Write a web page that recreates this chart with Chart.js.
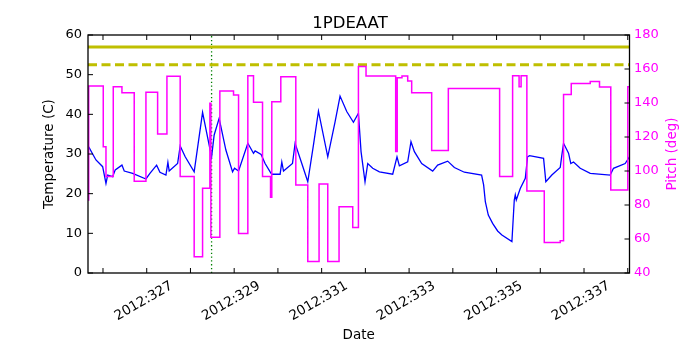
<!DOCTYPE html>
<html><head><meta charset="utf-8">
<script src="https://cdn.jsdelivr.net/npm/chart.js@4.4.0/dist/chart.umd.min.js"></script>
<style>html,body{margin:0;padding:0;background:#fff}#wrap{width:700px;height:350px}</style>
</head><body><div id="wrap"><canvas id="c" width="700" height="350"></canvas></div>
<script>
// ---- data (day of year 2012) ----
const tempDays = [325.673, 325.839, 325.992, 326.068, 326.107, 326.221, 326.280, 326.433, 326.486, 326.678, 326.982, 327.073, 327.226, 327.302, 327.439, 327.484, 327.514, 327.706, 327.765, 327.880, 328.085, 328.277, 328.483, 328.542, 328.656, 328.810, 328.963, 329.008, 329.100, 329.312, 329.442, 329.479, 329.616, 329.707, 329.822, 329.860, 330.050, 330.089, 330.128, 330.333, 330.393, 330.546, 330.683, 330.813, 330.927, 331.140, 331.307, 331.421, 331.574, 331.727, 331.841, 331.901, 331.992, 332.054, 332.168, 332.321, 332.625, 332.723, 332.778, 332.968, 333.043, 333.121, 333.288, 333.539, 333.653, 333.882, 334.035, 334.263, 334.658, 334.704, 334.743, 334.811, 334.910, 335.024, 335.122, 335.351, 335.405, 335.428, 335.451, 335.542, 335.657, 335.709, 335.755, 336.075, 336.127, 336.264, 336.456, 336.493, 336.532, 336.646, 336.698, 336.760, 336.913, 337.142, 337.599, 337.674, 337.941, 338.040];
const tempValues = [31.8, 28.5, 26.8, 22.6, 24.7, 24.3, 26.0, 27.2, 25.7, 25.1, 23.7, 25.1, 27.2, 25.4, 24.7, 27.9, 25.7, 27.6, 32.0, 29.3, 25.5, 40.5, 29.2, 34.8, 39.0, 31.0, 25.5, 26.4, 25.7, 32.7, 30.2, 30.8, 29.9, 27.6, 25.5, 24.9, 24.9, 28.0, 25.7, 27.6, 32.7, 27.6, 23.0, 32.3, 40.8, 29.3, 38.1, 44.6, 40.7, 38.0, 40.3, 30.6, 23.0, 27.6, 26.4, 25.5, 24.9, 29.3, 27.0, 28.0, 33.1, 30.6, 27.6, 25.7, 27.2, 28.2, 26.6, 25.4, 24.7, 22.2, 18.0, 14.6, 12.5, 10.6, 9.6, 7.9, 18.4, 19.7, 18.4, 21.3, 23.9, 29.3, 29.6, 28.9, 23.0, 24.7, 26.6, 29.7, 32.7, 30.2, 27.6, 28.0, 26.4, 25.1, 24.7, 26.4, 27.6, 29.3];

// pitch: value holds from its day until the next day
const pitchDays = [325.657, 325.673, 326.006, 326.068, 326.235, 326.433, 326.714, 326.982, 327.249, 327.462, 327.765, 328.085, 328.277, 328.444, 328.467, 328.672, 328.985, 329.100, 329.312, 329.442, 329.648, 329.831, 329.860, 330.066, 330.409, 330.683, 330.941, 331.140, 331.398, 331.711, 331.841, 332.015, 332.693, 332.728, 332.837, 332.968, 333.059, 333.516, 333.897, 335.070, 335.367, 335.515, 335.561, 335.693, 336.091, 336.456, 336.532, 336.708, 337.142, 337.354, 337.612, 338.001, 338.040];
const pitchValues = [83, 150, 114.3, 96.7, 149.6, 146, 94, 146.3, 121.8, 155.8, 96.7, 49.6, 89.8, 139.8, 61, 147, 144.7, 63.3, 156, 140.4, 96.7, 84.5, 140.8, 155.5, 91.8, 46.7, 92.4, 46.7, 79, 66.7, 161.4, 155.9, 111.4, 154.9, 155.9, 153, 146, 112, 148.6, 96.7, 156, 149.6, 156, 88.2, 58, 59, 145, 151.4, 152.6, 149.4, 88.8, 149.6, 149.6];

const labelDays = [327, 329, 331, 333, 335, 337];
const tickLabels = ['2012:327', '2012:329', '2012:331', '2012:333', '2012:335', '2012:337'];
const limitValues = [57, 52.5];   // planning limits (C)
const markerDay = 328.483;
const dayRange = [325.657, 338.04];
const pitchTitle = 'Pitch (deg)';

const FONT = 'DejaVu Sans';
const MAGENTA = '#ff00ff';
Chart.defaults.color = '#000';
Chart.defaults.font.family = FONT;

const toXY = (xs, ys) => xs.map((x, i) => ({x, y: ys[i]}));

const frameTicks = {
  id: 'frameTicks',
  afterDatasetsDraw(chart) {
    const {ctx, chartArea: a, scales} = chart;
    const L = 5;
    ctx.save();
    ctx.strokeStyle = '#000';
    ctx.lineWidth = 1;
    ctx.beginPath();
    scales.x.ticks.forEach(t => {
      const p = scales.x.getPixelForValue(t.value);
      ctx.moveTo(p, a.bottom); ctx.lineTo(p, a.bottom - L);
      ctx.moveTo(p, a.top); ctx.lineTo(p, a.top + L);
    });
    scales.yT.ticks.forEach(t => {
      const p = scales.yT.getPixelForValue(t.value);
      ctx.moveTo(a.left, p); ctx.lineTo(a.left + L, p);
    });
    scales.yP.ticks.forEach(t => {
      const p = scales.yP.getPixelForValue(t.value);
      ctx.moveTo(a.right, p); ctx.lineTo(a.right - L, p);
    });
    ctx.stroke();
    ctx.lineWidth = 1.3;
    ctx.strokeRect(a.left, a.top, a.right - a.left, a.bottom - a.top);
    // right axis title, reading bottom-to-top like the left one
    const s = scales.yP;
    ctx.translate(s.right - 27.5, (a.top + a.bottom) / 2);
    ctx.rotate(-Math.PI / 2);
    ctx.font = '13.5px "' + FONT + '"';
    ctx.fillStyle = MAGENTA;
    ctx.textAlign = 'center';
    ctx.textBaseline = 'middle';
    ctx.fillText(pitchTitle, 0, 0);
    ctx.restore();
  }
};

new Chart(document.getElementById('c'), {
  type: 'line',
  data: {
    datasets: [
      {
        label: 'Pitch', data: toXY(pitchDays, pitchValues), yAxisID: 'yP', xAxisID: 'x',
        borderColor: MAGENTA, borderWidth: 1.5, stepped: 'before', pointRadius: 0, fill: false, order: 0
      },
      {
        label: '1PDEAAT', data: toXY(tempDays, tempValues), yAxisID: 'yT', xAxisID: 'x',
        borderColor: '#0000ff', borderWidth: 1.3, tension: 0, pointRadius: 0, fill: false, order: 1
      },
      {
        label: 'limit', data: toXY(dayRange, [limitValues[0], limitValues[0]]), yAxisID: 'yT',
        borderColor: '#bfbf00', borderWidth: 3, pointRadius: 0, order: 2
      },
      {
        label: 'plan limit', data: toXY(dayRange, [limitValues[1], limitValues[1]]), yAxisID: 'yT',
        borderColor: '#bfbf00', borderWidth: 3, borderDash: [9, 4.5], pointRadius: 0, order: 2
      },
      {
        label: 'now', data: toXY([markerDay, markerDay], [0, 60]), yAxisID: 'yT',
        borderColor: '#008000', borderWidth: 1.3, borderDash: [1.3, 2.5], pointRadius: 0, order: 3
      }
    ]
  },
  options: {
    responsive: false,
    animation: false,
    devicePixelRatio: 1,
    layout: {padding: 0},
    plugins: {
      legend: {display: false},
      tooltip: {enabled: false},
      title: {
        display: true, text: '1PDEAAT', color: '#000',
        font: {family: FONT, size: 16.5, weight: 'normal'},
        padding: {top: 14, bottom: 1.2}
      }
    },
    scales: {
      x: {
        type: 'linear', position: 'bottom',
        min: dayRange[0], max: dayRange[1],
        grid: {display: false, drawTicks: false}, border: {display: false},
        ticks: {
          stepSize: 1, includeBounds: false, autoSkip: false,
          minRotation: 30, maxRotation: 30, labelOffset: 25, padding: 5,
          font: {family: FONT, size: 13.5}, color: '#000',
          callback: (v) => { const i = labelDays.findIndex(d => Math.abs(d - v) < 1e-6); return i >= 0 ? tickLabels[i] : ''; }
        },
        title: {display: true, text: 'Date', color: '#000', font: {family: FONT, size: 13.5}, padding: {top: 0, bottom: 6}},
        afterFit: (s) => { s.height = 77; }
      },
      yT: {
        type: 'linear', position: 'left', min: 0, max: 60,
        grid: {display: false, drawTicks: false}, border: {display: false},
        ticks: {stepSize: 10, padding: 6, font: {family: FONT, size: 13}, color: '#000'},
        title: {display: true, text: 'Temperature (C)', color: '#000', font: {family: FONT, size: 13.5}, padding: {top: 41, bottom: 0}},
        afterFit: (s) => { s.width = 88; }
      },
      yP: {
        type: 'linear', position: 'right', min: 40, max: 180,
        grid: {display: false, drawTicks: false}, border: {display: false},
        ticks: {stepSize: 20, padding: 4.5, font: {family: FONT, size: 13}, color: MAGENTA},
        title: {display: false},
        afterFit: (s) => { s.width = 70.5; }
      }
    }
  },
  plugins: [frameTicks]
});
</script>
</body></html>
